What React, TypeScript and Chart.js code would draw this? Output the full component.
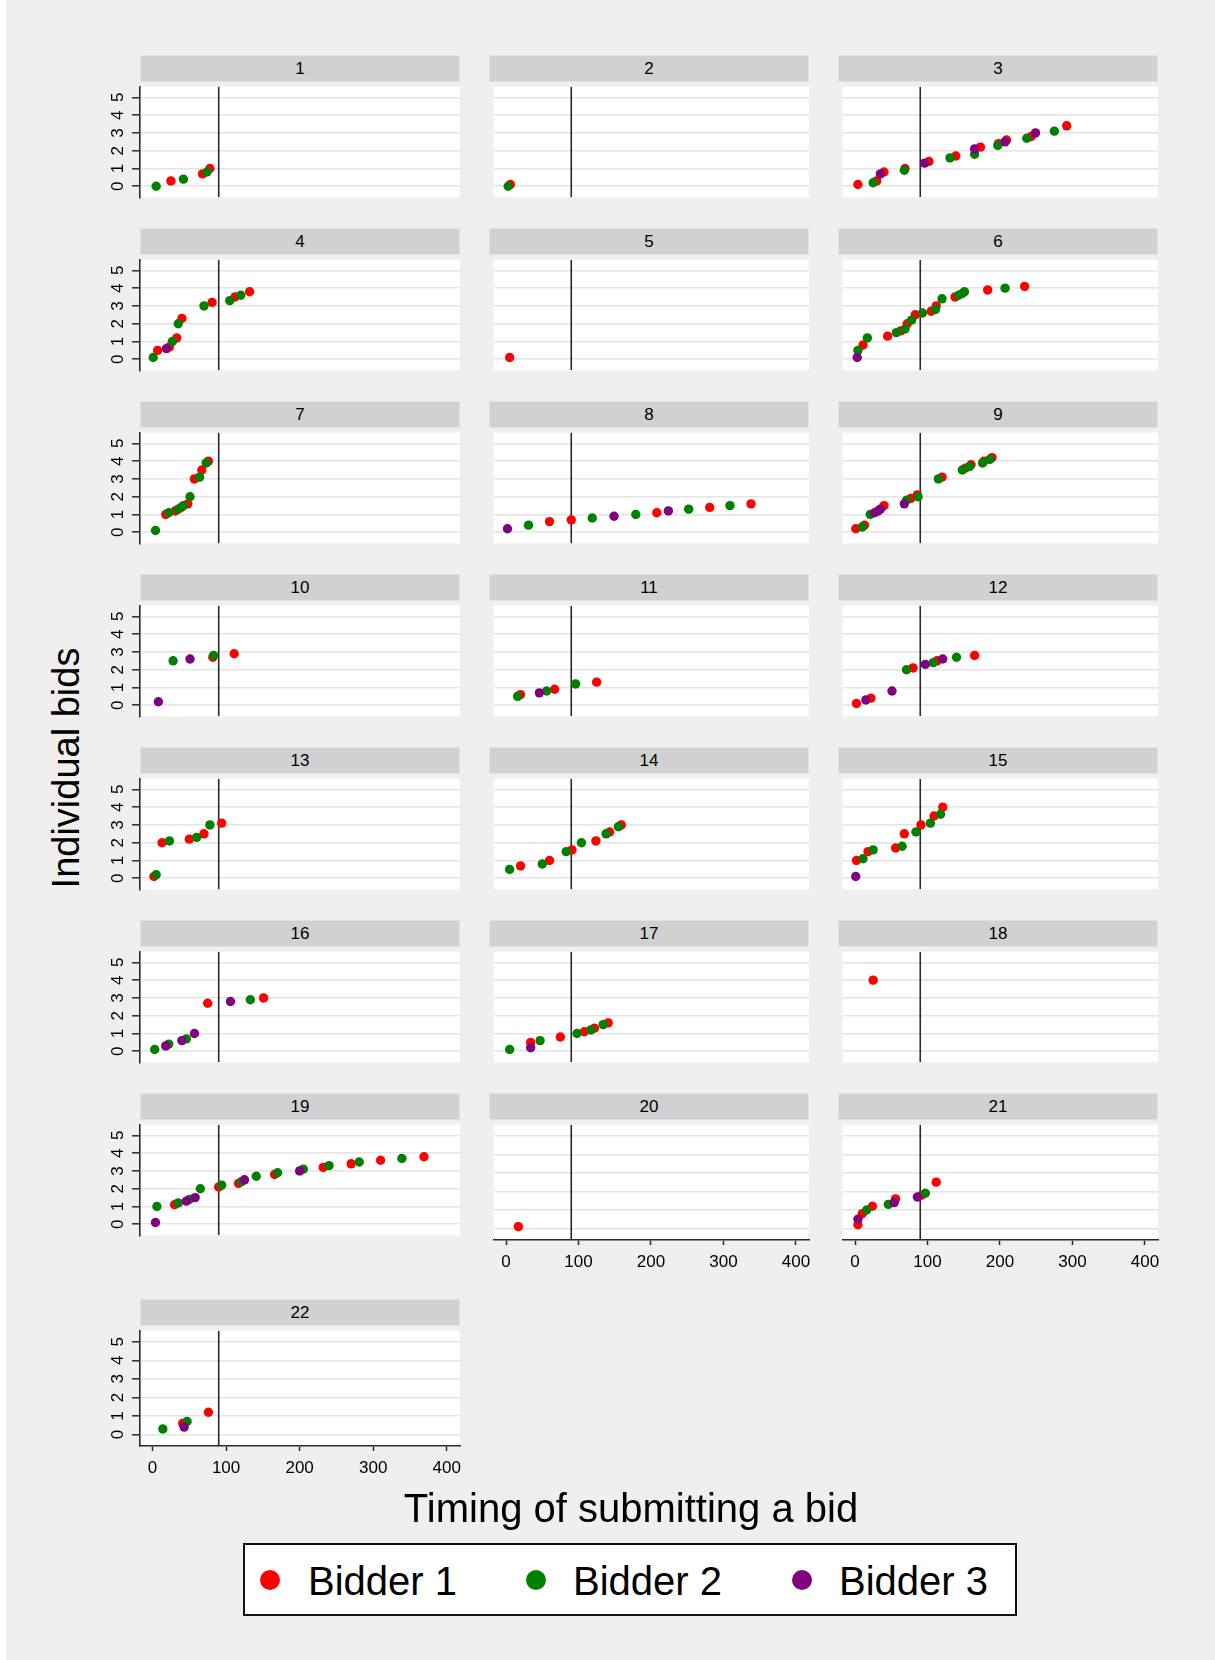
import React, { useEffect, useRef } from 'react';
import { Chart, registerables } from 'chart.js';

Chart.register(...registerables);

type Pt = [number, number];

// ---------------- data ----------------
const panelTitles = ['1', '2', '3', '4', '5', '6', '7', '8', '9', '10', '11', '12', '13', '14', '15', '16', '17', '18', '19', '20', '21', '22'];
const xTicks = [0, 100, 200, 300, 400];
const yTicks = [0, 1, 2, 3, 4, 5];
const cutoffTime = 90;
const seriesNames = ['Bidder 1', 'Bidder 2', 'Bidder 3'];
const seriesColors = ['#ff0000', '#008000', '#800080'];
const xTitle = 'Timing of submitting a bid';
const yTitle = 'Individual bids';

// [time, bid] per panel
const bidder1: Pt[][] = [
  [[25, 0.3], [68, 0.7], [78, 1.0]],
  [[6, 0.1]],
  [[4, 0.1], [30, 0.3], [40, 0.8], [69, 1.0], [102, 1.4], [139, 1.7], [173, 2.2], [198, 2.4], [209, 2.6], [243, 2.8], [292, 3.4]],
  [[7, 0.5], [23, 0.7], [33, 1.2], [40, 2.3], [81, 3.2], [112, 3.5], [132, 3.8]],
  [[5, 0.1]],
  [[11, 0.8], [45, 1.3], [63, 1.6], [72, 2.0], [83, 2.5], [105, 2.7], [112, 3.0], [138, 3.5], [183, 3.9], [234, 4.1]],
  [[18, 1.0], [31, 1.2], [39, 1.4], [48, 1.6], [57, 3.0], [67, 3.5], [76, 4.0]],
  [[60, 0.6], [90, 0.7], [208, 1.1], [281, 1.4], [338, 1.6]],
  [[1, 0.2], [13, 0.4], [40, 1.5], [77, 1.9], [86, 2.1], [120, 3.1], [152, 3.6], [160, 3.8], [178, 4.0], [189, 4.2]],
  [[82, 2.7], [111, 2.9]],
  [[20, 0.6], [67, 0.9], [125, 1.3]],
  [[2, 0.1], [22, 0.4], [80, 2.1], [113, 2.5], [165, 2.8]],
  [[2, 0.1], [13, 2.0], [50, 2.2], [70, 2.5], [94, 3.1]],
  [[20, 0.7], [60, 1.0], [91, 1.6], [124, 2.1], [143, 2.6], [159, 3.0]],
  [[2, 1.0], [18, 1.5], [56, 1.7], [68, 2.5], [91, 3.0], [109, 3.5], [121, 4.0]],
  [[75, 2.7], [151, 3.0]],
  [[34, 0.5], [75, 0.8], [108, 1.1], [122, 1.3], [141, 1.6]],
  [[25, 4.0]],
  [[30, 1.1], [90, 2.1], [117, 2.3], [166, 2.8], [232, 3.2], [270, 3.4], [310, 3.6], [369, 3.8]],
  [[17, 0.1]],
  [[4, 0.2], [10, 0.8], [24, 1.2], [56, 1.6], [92, 1.8], [112, 2.5]],
  [[41, 0.6], [76, 1.2]],
];

const bidder2: Pt[][] = [
  [[5, 0.0], [42, 0.4], [74, 0.8]],
  [[3, 0.0]],
  [[25, 0.2], [68, 0.9], [131, 1.6], [165, 1.8], [197, 2.3], [237, 2.7], [275, 3.1]],
  [[1, 0.1], [27, 1.0], [35, 2.0], [70, 3.0], [105, 3.3], [120, 3.6]],
  [],
  [[4, 0.5], [17, 1.2], [57, 1.5], [69, 1.7], [78, 2.2], [93, 2.6], [111, 2.8], [120, 3.4], [143, 3.6], [148, 3.7], [151, 3.8], [207, 4.0]],
  [[4, 0.1], [22, 1.1], [35, 1.3], [42, 1.5], [51, 2.0], [64, 3.1], [73, 3.9]],
  [[31, 0.4], [119, 0.8], [179, 1.0], [252, 1.3], [309, 1.5]],
  [[10, 0.3], [21, 1.0], [71, 1.8], [87, 2.0], [115, 3.0], [148, 3.5], [158, 3.7], [176, 3.9], [186, 4.1]],
  [[28, 2.5], [83, 2.8]],
  [[16, 0.5], [56, 0.8], [96, 1.2]],
  [[71, 2.0], [108, 2.4], [140, 2.7]],
  [[5, 0.2], [23, 2.1], [60, 2.3], [78, 3.0]],
  [[5, 0.5], [50, 0.8], [83, 1.5], [104, 2.0], [138, 2.5], [155, 2.9]],
  [[11, 1.1], [25, 1.6], [65, 1.8], [84, 2.6], [104, 3.1], [118, 3.6]],
  [[3, 0.1], [22, 0.4], [46, 0.7], [133, 2.9]],
  [[5, 0.1], [47, 0.6], [98, 1.0], [117, 1.2], [134, 1.5]],
  [],
  [[6, 1.0], [35, 1.2], [50, 1.4], [65, 2.0], [94, 2.2], [121, 2.4], [141, 2.7], [170, 2.9], [205, 3.1], [240, 3.3], [281, 3.5], [339, 3.7]],
  [],
  [[16, 1.0], [46, 1.3], [97, 1.9]],
  [[14, 0.3], [47, 0.7]],
];

const bidder3: Pt[][] = [
  [],
  [],
  [[35, 0.7], [96, 1.3], [165, 2.1], [207, 2.5], [249, 3.0]],
  [[19, 0.6]],
  [],
  [[3, 0.1]],
  [],
  [[2, 0.2], [149, 0.9], [224, 1.2]],
  [[27, 1.1], [32, 1.2], [35, 1.3], [68, 1.6]],
  [[8, 0.2], [51, 2.6]],
  [[46, 0.7]],
  [[15, 0.3], [51, 0.8], [97, 2.3], [121, 2.6]],
  [],
  [],
  [[1, 0.1]],
  [[18, 0.3], [40, 0.6], [57, 1.0], [106, 2.8]],
  [[34, 0.2]],
  [],
  [[4, 0.1], [46, 1.3], [58, 1.5], [125, 2.5], [200, 3.0]],
  [],
  [[4, 0.5], [54, 1.4], [86, 1.7]],
  [[43, 0.4]],
];

const allSeries = [bidder1, bidder2, bidder3];

// ---------------- layout ----------------
const FONT = "'Liberation Sans', Arial, Helvetica, sans-serif";
const COL_LEFT = [140, 489, 838];
const ROW_TOP = [55, 228, 401, 574, 747, 920, 1093, 1299];
const PLOT_W = 320;
const HEAD_H = 27;
const PLOT_H = 120;
const Y_AXIS_W = 40;
const X_AXIS_H = 42;
const RIGHT_PAD = 20;
const X_MIN = -17;
const X_MAX = 418;
const Y_MIN = -0.62;
const Y_MAX = 5.6;
const X_AXIS_PANELS = [19, 20, 21];

const plotBg = {
  id: 'plotBg',
  beforeDraw(chart: any) {
    const { ctx, chartArea } = chart;
    ctx.save();
    ctx.fillStyle = '#ffffff';
    ctx.fillRect(chartArea.left, chartArea.top, chartArea.right - chartArea.left, chartArea.bottom - chartArea.top);
    ctx.restore();
  },
};

function Panel({ idx }: { idx: number }) {
  const ref = useRef<HTMLCanvasElement>(null);
  const col = idx % 3;
  const row = Math.floor(idx / 3);
  const hasY = col === 0;
  const hasX = X_AXIS_PANELS.includes(idx);
  const left = COL_LEFT[col];
  const top = ROW_TOP[row];
  const yw = hasY ? Y_AXIS_W : 0;
  const xh = hasX ? X_AXIS_H : 0;
  const cw = yw + PLOT_W + RIGHT_PAD;
  const chh = PLOT_H + xh;

  useEffect(() => {
    const datasets: any[] = [
      {
        type: 'line',
        label: 'cutoff',
        data: [
          { x: cutoffTime, y: Y_MIN },
          { x: cutoffTime, y: Y_MAX },
        ],
        borderColor: '#2a2a2a',
        borderWidth: 1.6,
        pointRadius: 0,
        showLine: true,
        fill: false,
        order: 10,
      },
    ];
    allSeries.forEach((s, i) => {
      datasets.push({
        type: 'scatter',
        label: seriesNames[i],
        data: s[idx].map(([x, y]) => ({ x, y })),
        backgroundColor: seriesColors[i],
        borderColor: seriesColors[i],
        borderWidth: 0,
        pointRadius: 4.7,
        order: 3 - i,
      });
    });

    const chart = new Chart(ref.current as HTMLCanvasElement, {
      type: 'scatter',
      data: { datasets },
      plugins: [plotBg],
      options: {
        animation: false,
        responsive: false,
        maintainAspectRatio: false,
        layout: { padding: { left: 0, right: RIGHT_PAD, top: 0, bottom: 0 } },
        plugins: { legend: { display: false }, tooltip: { enabled: false }, title: { display: false } },
        scales: {
          x: {
            type: 'linear',
            min: X_MIN,
            max: X_MAX,
            display: hasX,
            afterBuildTicks: (s: any) => {
              s.ticks = xTicks.map((v) => ({ value: v }));
            },
            afterFit: (s: any) => {
              s.height = hasX ? X_AXIS_H : 0;
              s.paddingLeft = 0;
              s.paddingRight = 0;
            },
            grid: {
              display: true,
              drawOnChartArea: false,
              drawTicks: true,
              tickLength: 5,
              tickColor: '#2a2a2a',
              tickWidth: 1.5,
            },
            border: { display: true, color: '#2a2a2a', width: 1.6 },
            ticks: {
              autoSkip: false,
              maxRotation: 0,
              minRotation: 0,
              padding: 7,
              color: '#000000',
              font: { family: FONT, size: 17 },
            },
          },
          y: {
            type: 'linear',
            min: Y_MIN,
            max: Y_MAX,
            afterBuildTicks: (s: any) => {
              s.ticks = yTicks.map((v) => ({ value: v }));
            },
            afterFit: (s: any) => {
              s.width = yw;
              s.paddingTop = 0;
              s.paddingBottom = 0;
            },
            grid: {
              display: true,
              drawOnChartArea: true,
              color: '#e4e4e4',
              lineWidth: 1.6,
              drawTicks: hasY,
              tickLength: 8,
              tickColor: '#2a2a2a',
              tickWidth: 1.5,
            },
            border: { display: hasY, color: '#2a2a2a', width: 1.6 },
            ticks: {
              display: hasY,
              minRotation: 90,
              maxRotation: 90,
              crossAlign: 'center',
              padding: 9,
              color: '#000000',
              font: { family: FONT, size: 17 },
            },
          },
        },
      } as any,
    });
    return () => chart.destroy();
  }, [idx]);

  return (
    <>
      <div
        style={{
          position: 'absolute',
          left,
          top,
          width: PLOT_W,
          height: HEAD_H,
          boxSizing: 'border-box',
          background: '#d1d1d1',
          border: '1px solid #dae4ea',
          display: 'flex',
          alignItems: 'center',
          justifyContent: 'center',
          fontFamily: FONT,
          fontSize: 17,
          color: '#000',
        }}
      >
        {panelTitles[idx]}
      </div>
      <canvas
        ref={ref}
        width={cw}
        height={chh}
        style={{ position: 'absolute', left: left - yw, top: top + HEAD_H, width: cw, height: chh }}
      />
    </>
  );
}

const legendCircleX = [270, 536, 802];
const legendTextX = [308, 573, 839];

export default function App() {
  useEffect(() => {
    document.body.style.margin = '0';
  }, []);
  return (
    <div style={{ position: 'absolute', left: 0, top: 0, width: 1215, height: 1660, background: '#ffffff', overflow: 'hidden' }}>
      <div style={{ position: 'absolute', left: 6, top: 0, width: 1209, height: 1660, background: '#efefef' }} />
      {panelTitles.map((_, i) => (
        <Panel key={i} idx={i} />
      ))}
      <div
        style={{
          position: 'absolute',
          left: 66,
          top: 768,
          transform: 'translate(-50%, -50%) rotate(-90deg)',
          whiteSpace: 'nowrap',
          fontFamily: FONT,
          fontSize: 38,
          lineHeight: 1,
          color: '#000',
        }}
      >
        {yTitle}
      </div>
      <div
        style={{
          position: 'absolute',
          left: 631,
          top: 1488,
          transform: 'translateX(-50%)',
          whiteSpace: 'nowrap',
          fontFamily: FONT,
          fontSize: 40,
          lineHeight: 1,
          color: '#000',
        }}
      >
        {xTitle}
      </div>
      <div
        style={{
          position: 'absolute',
          left: 243,
          top: 1543,
          width: 774,
          height: 73,
          boxSizing: 'border-box',
          background: '#ffffff',
          border: '2px solid #111',
        }}
      />
      {seriesNames.map((name, i) => (
        <React.Fragment key={name}>
          <div
            style={{
              position: 'absolute',
              left: legendCircleX[i] - 10,
              top: 1570,
              width: 20,
              height: 20,
              borderRadius: '50%',
              background: seriesColors[i],
            }}
          />
          <div
            style={{
              position: 'absolute',
              left: legendTextX[i],
              top: 1561,
              whiteSpace: 'nowrap',
              fontFamily: FONT,
              fontSize: 40,
              lineHeight: 1,
              color: '#000',
            }}
          >
            {name}
          </div>
        </React.Fragment>
      ))}
    </div>
  );
}
